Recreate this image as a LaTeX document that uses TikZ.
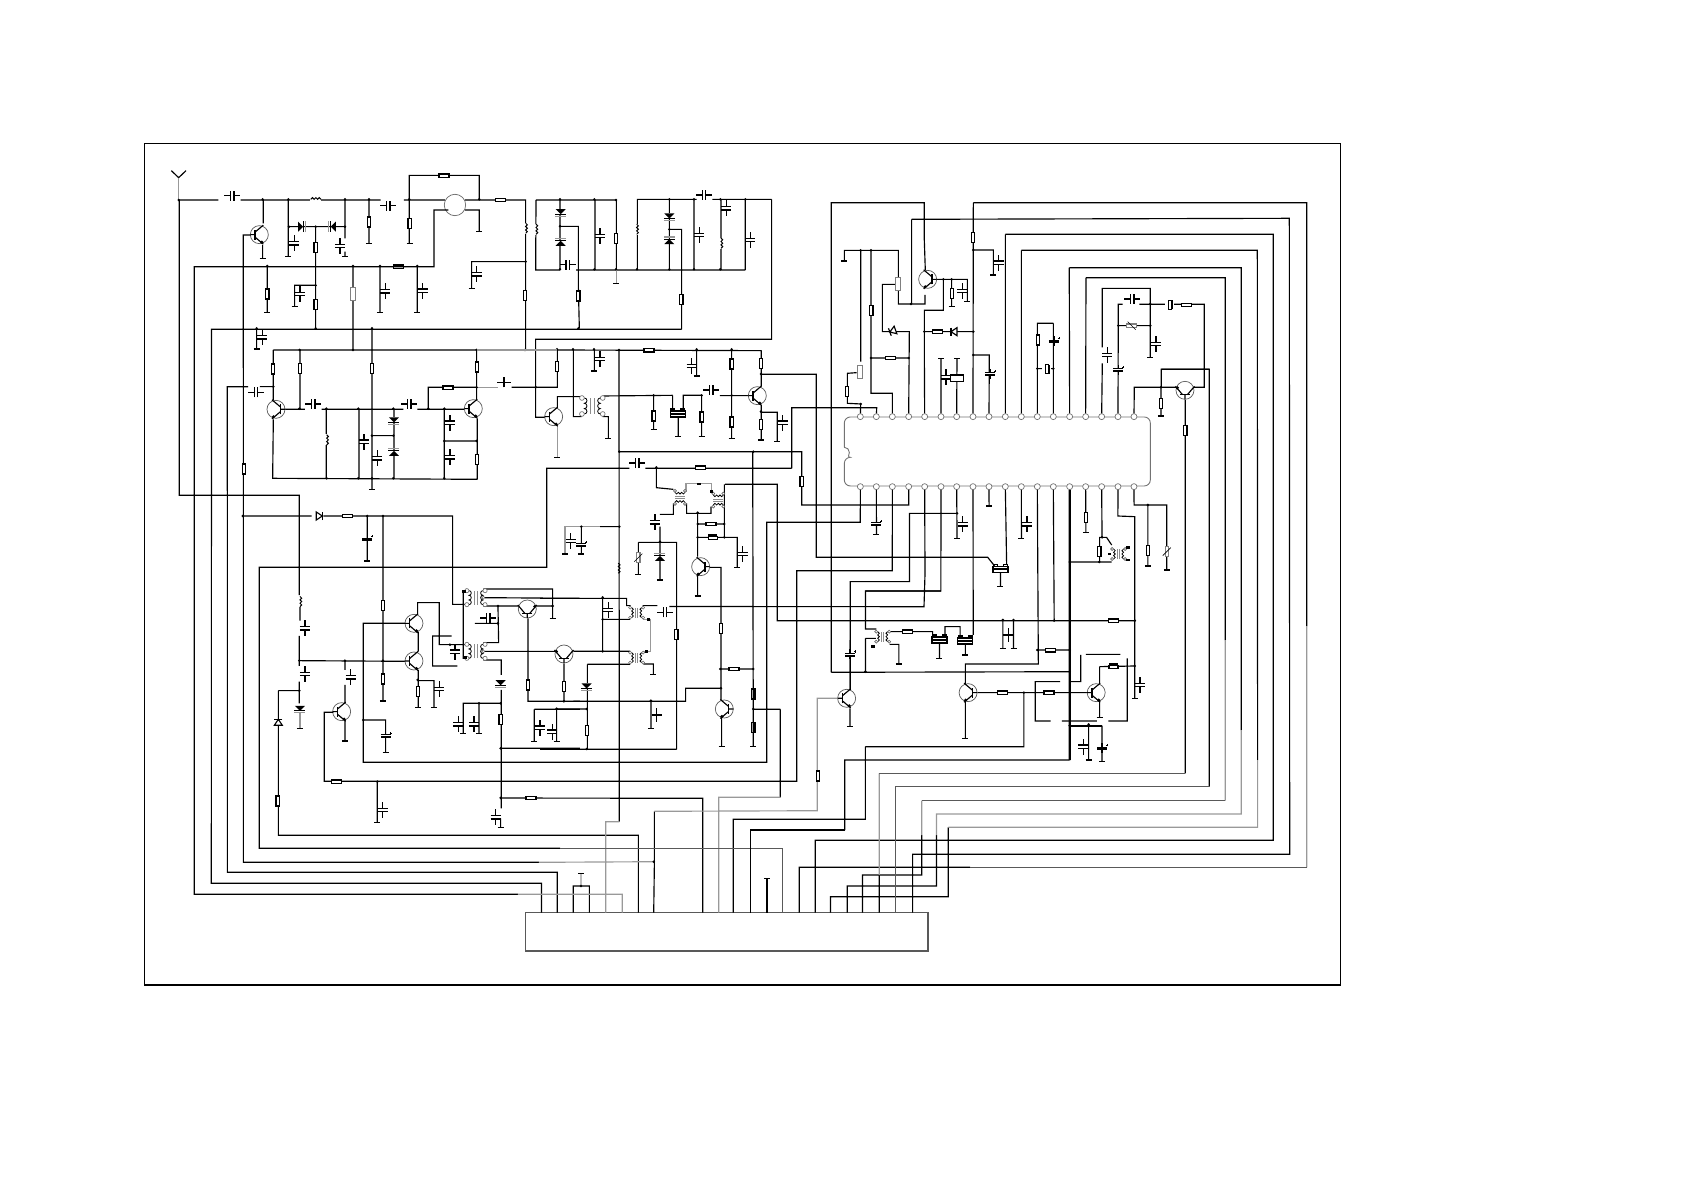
\documentclass[tikz,border=0pt]{standalone}
\newcommand\Put[2]{\foreach \cx/\cy in {#2} {\pic at (\cx,\cy) {#1};}}
\newcommand\Dots[1]{\foreach \cx/\cy in {#1} {\fill (\cx,\cy) circle (1.4pt);}}
\tikzset{
	wire/.style={line width=1.15pt},
	pale/.style={line width=1.15pt,black!40},
	dim/.style={line width=1.15pt,black!65},
	heavy/.style={line width=2.3pt},
	pinhole/.style={circle,draw=black!55,fill=white,line width=.7pt,inner sep=0pt,minimum size=6pt},
	resv/.pic={\draw[wire,fill=white] (-1.7pt,-5pt) rectangle (1.7pt,5pt);},
	resh/.pic={\draw[wire,fill=white] (-5pt,-1.7pt) rectangle (5pt,1.7pt);},
	potv/.pic={\draw[wire,black!50,fill=white] (-2.5pt,-6.5pt) rectangle (2.5pt,6.5pt);},
	trimv/.pic={\draw[wire,black!50,fill=white] (-1.7pt,-5pt) rectangle (1.7pt,5pt);\draw[line width=.7pt] (-4pt,-4pt) -- (4pt,4pt);},
	capv/.pic={\fill[white] (-1.5pt,-1.6pt) rectangle (1.5pt,1.6pt);
		\draw[wire] (-5pt,1.7pt) -- (5pt,1.7pt) (-5pt,-1.7pt) -- (5pt,-1.7pt) (0pt,1.7pt) -- (0pt,8pt) (0pt,-1.7pt) -- (0pt,-8pt);},
	caph/.pic={\fill[white] (-1.6pt,-1.5pt) rectangle (1.6pt,1.5pt);
		\draw[wire] (1.7pt,-5pt) -- (1.7pt,5pt) (-1.7pt,-5pt) -- (-1.7pt,5pt) (1.7pt,0pt) -- (8pt,0pt) (-1.7pt,0pt) -- (-8pt,0pt);},
	tcapv/.pic={\draw[line width=1.8pt] (-5pt,0pt) -- (5pt,0pt);\draw[wire] (0pt,-7pt) -- (0pt,7pt);},
	elecv/.pic={\fill[white] (-5pt,-1.8pt) rectangle (5pt,1.2pt);
		\draw[wire] (-5pt,1.2pt) -- (5pt,1.2pt) (0pt,1.2pt) -- (0pt,5pt) (0pt,-1.8pt) -- (0pt,-5pt);
		\fill (-5pt,-1.8pt) rectangle (5pt,0pt);
		\draw[line width=.5pt] (4pt,3pt) -- (6pt,3pt) (5pt,2pt) -- (5pt,4pt);},
	xcrys/.pic={\fill[white] (-4.5pt,-2pt) rectangle (4.5pt,2pt);\draw[wire,fill=white] (-1.5pt,-4.5pt) rectangle (1.5pt,4.5pt);\draw[line width=1.3pt] (2.8pt,-4.5pt) -- (2.8pt,4.5pt);},
	xbox/.pic={\draw[line width=1.3pt,fill=white] (-6.5pt,-3.3pt) rectangle (6.5pt,3.3pt);},
	filter/.pic={\draw[wire,fill=white] (-7.5pt,-3pt) rectangle (7.5pt,3pt);\draw[line width=1.8pt] (-7.5pt,0pt) -- (7.5pt,0pt);
		\draw[wire,fill=white] (-7pt,3pt) rectangle (-3pt,5pt) (3pt,3pt) rectangle (7pt,5pt);},
	earth/.pic={\draw[wire] (-3pt,0pt) -- (3pt,0pt);},
	speck/.pic={\fill (-1.7pt,-1.3pt) rectangle (1.7pt,1.3pt);},
	coilv/.pic={\fill[white] (-2pt,-5.5pt) rectangle (2pt,5.5pt);
		\draw[line width=1pt] (0pt,-5pt) arc (-90:90:1.7pt) arc (-90:90:1.7pt) arc (-90:90:1.7pt);},
	diode/.pic={\fill[white] (-2.5pt,-5pt) rectangle (2.5pt,5pt);
		\fill (-2.5pt,-5pt) -- (-2.5pt,5pt) -- (2.5pt,0pt) -- cycle;
		\draw[wire] (2.5pt,-5.5pt) -- (2.5pt,5.5pt);\draw[wire,black!40] (4.6pt,-5.5pt) -- (4.6pt,5.5pt);},
	hdiode/.pic={\draw[wire,fill=white] (-3pt,-4pt) -- (-3pt,4pt) -- (3pt,0pt) -- cycle;\draw[wire] (3pt,-4pt) -- (3pt,4pt);},
	npn/.pic={\draw[black!65,line width=.7pt] (0pt,0pt) circle (9pt);
		\draw[line width=1.5pt] (-4.3pt,-5pt) -- (-4.3pt,5pt);
		\draw[wire] (-9pt,0pt) -- (-4.3pt,0pt) (-4.3pt,2.5pt) -- (4pt,9.5pt) (-4.3pt,-2.5pt) -- (4pt,-9.5pt);
		\fill (2.5pt,-7.5pt) circle (1.7pt);},
	xfmr/.pic={\fill[white] (-6.5pt,-5pt) rectangle (6.5pt,5pt);
		\draw[line width=.8pt] (-5pt,-5pt) arc (-90:90:1.67pt) arc (-90:90:1.67pt) arc (-90:90:1.67pt);
		\draw[line width=.8pt] (5pt,-5pt) arc (270:90:1.67pt) arc (270:90:1.67pt) arc (270:90:1.67pt);
		\draw[black!45,line width=.6pt] (-1pt,-5pt) -- (-1pt,5pt) (1pt,-5pt) -- (1pt,5pt);
		\foreach \tx in {-6.5,6.5} \foreach \ty in {-5,5} {\draw[black!60,fill=white,line width=.6pt] (\tx pt,\ty pt) circle (1.5pt);}},
}
\begin{document}
\begin{tikzpicture}[x=.3333pt,y=-.3333pt]
	\useasboundingbox (0pt,0pt) rectangle (1685pt,-1191pt);
	\begin{scope}[x=1pt,y=-1pt]
		\draw[wire] (144.3,143.3) rectangle (1340.5,985);
		\draw[dim] (525.5,912.7) rectangle (928,951);
	\end{scope}
	\begin{scope}[shift={(820pt,-180pt)}]
		\draw[black!55,line width=.9pt,rounded corners=6pt] (73,802) -- (73,711) -- (991,711) -- (991,918) -- (73,918) -- (73,832) arc (-90:90:5pt);
		\foreach \n [count=\i] in {121,169,217,266,314,363,410,459,507,556,604,652,700,749,797,845,894,942} {
			\node[pinhole] (t\i) at (\n,710) {};
			\node[pinhole] (b\i) at (\n,920) {};
		}
		\draw[wire] (315,345) -- (315,372) -- (235,372) -- (235,211) -- (73,211) -- (73,243)
			(275,372) -- (275,118)
			(225,313) -- (187,313) -- (187,455) -- (268,455) -- (t4)
			(153,211) -- (153,640) -- (217,640) -- (t3)
			(153,534) -- (266,534)
			(122,211) -- (122,545) (110,578) -- (82,580) -- (82,670) -- (122,672) -- (t1)
			(350,298) -- (442,298) -- (442,365)
			(370,298) -- (370,391) -- (313,391) -- (313,510) -- (t5)
			(313,455) -- (460,455)
			(395,298) -- (395,380)
			(460,68) -- (t8) (460,210) -- (520,210) -- (520,285)
			(460,525) -- (508,525) -- (t9)
			(363,535) -- (t6) (411,535) -- (t7)
			(556,163) -- (556,285) -- (t10)
			(604,211) -- (t11)
			(700,430) -- (652,430) -- (t12) (700,430) -- (t13) (652,566) -- (700,566)
			(748,263) -- (748,340) -- (t14)
			(798,293) -- (t15)
			(847,502) -- (847,325) -- (991,325) -- (991,532) (847,550) -- (t16)
			(908,373) -- (895,373) -- (t17) (958,373) -- (1153,373) -- (1153,622) -- (1122,622)
			(895,437) -- (991,437)
			(1068,622) -- (943,622) -- (t18) (1023,622) -- (1023,708)
			(1024,622) -- (1024,568) -- (1168,568);
		\Put{resv}{459/172,396/341,154/391,81/634,654/480,1023/670}
		\Put{resh}{211/534,352/455,1100/375}
		\Put{potv}{234/312,120/577}
		\Put{capv}{536/248,427/333,378/592,862/525,1008/492}
		\Put{caph}{937/357}
		\Put{elecv}{702/484,510/582,895/570}
		\Put{earth}{73/243,395/380,442/365,520/285,1023/708,991/532,363/535,411/535}
		\Dots{122/211,153/211,273/372,153/534,266/534,122/672,370/298,395/298,313/455,460/210,460/455,460/525,652/566,700/566,895/437,991/437,991/372,1023/622}
		\pic[rotate=90] at (935,437) {trimv};
		\pic at (681,568) {xcrys};
		\pic at (1050,375) {xcrys};
		\pic at (411,595) {xbox};
		\pic[rotate=200] at (218,453) {hdiode};
		\pic[rotate=180] at (402,455) {hdiode};
		\pic[xscale=-1] at (323,298) {npn};
		\pic[rotate=90,yscale=-1] at (1095,631) {npn};
	\end{scope}
	\begin{scope}[shift={(130pt,-130pt)}]
		\draw[wire] (124,122) -- (146,143) -- (168,122);
		\draw[pale] (146,143) -- (146,210);
		\draw[wire] (146,210) -- (265,210) (332,210) -- (752,210) (822,210) -- (945,210)
			(838,210) -- (838,136) -- (1048,136) -- (1048,210)
			(1005,210) -- (1187,210) -- (1187,660)
			(1005,240) -- (1048,240) -- (1048,305)
			(400,210) -- (400,280) (398,345) -- (398,385)
			(475,210) -- (475,380) (477,290) -- (645,290)
			(645,210) -- (645,325) (645,365) -- (645,380)
			(557,290) -- (557,597) (557,466) -- (494,466) -- (494,530)
			(717,210) -- (717,340) (838,210) -- (838,340)
			(412,410) -- (412,547) (669,410) -- (669,660) (750,410) -- (750,547) (862,410) -- (862,547)
			(1025,475) -- (1025,395) -- (1187,395)
			(380,597) -- (380,657)
			(430,660) -- (1040,660) (430,660) -- (430,810) (510,660) -- (510,838)
			(726,597) -- (726,1078)
			(465,838) -- (525,838) (575,838) -- (820,838)
			(430,868) -- (428,1045) -- (1042,1048)
			(589,838) -- (589,1045) (687,838) -- (687,1045) (792,838) -- (792,1045) (726,917) -- (790,917)
			(862,838) -- (1005,838) (895,838) -- (895,772) -- (1040,772)
			(1040,660) -- (1040,810) (1042,865) -- (1042,1048)
			(943,838) -- (943,1045) (943,933) -- (1040,933)
			(390,770) -- (430,770);
		\draw[pale] (1040,772) -- (1105,772) (1040,660) -- (1260,660);
		\draw[black!60,line width=.7pt] (975,225) circle (10.7pt);
		\Put{resv}{717/276,839/280,557/353,557/524,412/492,1185/497,429/717,510/715,726/715,1041/711,1041/988}
		\Put{resh}{942/137,1112/210,805/410,954/773}
		\Put{capv}{493/340,630/348,510/492,766/484,878/482,1040/433,397/622,702/935,742/985,960/878,960/982}
		\Put{caph}{307/197,775/227,378/787,550/822,838/822}
		\Put{earth}{398/385,475/380,645/380,717/340,839/340,1048/305,412/547,750/548,862/548,494/530,1025/475,380/657,726/1078}
		\Dots{146/210,398/208,475/208,645/208,717/208,838/208,1048/208,477/290,645/290,557/290,412/408,669/408,750/408,862/408,1187/395,557/466,380/595,557/595,726/595,509/660,669/660,1040/660,1185/660,508/836,589/836,685/836,790/836,895/836,943/836,726/917,790/917,943/933,1040/933,590/1045,685/1045,726/1045,790/1045,943/1045,430/770,1040/772}
		\pic at (669,492) {potv};
		\pic[rotate=90] at (558,208) {coilv};
		\pic at (1187,295) {coilv};
		\pic at (590,930) {coilv};
		\pic[rotate=90] at (1122,757) {tcapv};
		\pic at (512,290) {diode};
		\pic[rotate=180] at (610,290) {diode};
		\pic[rotate=-90] at (792,870) {diode};
		\pic[rotate=90] at (792,970) {diode};
		\pic at (388,314) {npn};
		\pic[xscale=-1] at (438,838) {npn};
		\pic at (1030,836) {npn};
	\end{scope}
	\begin{scope}[shift={(500pt,-160pt)}]
		\draw[wire] (108,120) -- (350,120) (108,120) -- (107,330) -- (180,330) (180,120) -- (180,330)
			(180,199) -- (235,199) -- (235,375) -- (238,505)
			(228,330) -- (736,330) (285,120) -- (285,330) (349,120) -- (349,330)
			(590,118) -- (412,118) -- (412,330) (637,118) -- (815,118)
			(508,118) -- (508,330) (508,208) -- (545,208) -- (545,508)
			(582,118) -- (582,330) (663,118) -- (663,330) (736,118) -- (736,330)
			(815,118) -- (815,538) -- (107,538) -- (107,772) -- (135,772)
			(172,745) -- (172,710) -- (245,710)
			(35,682) -- (172,682) -- (172,568)
			(172,570) -- (785,572)
			(220,570) -- (220,770) -- (245,770) (283,570) -- (283,633) (590,570) -- (590,648)
			(695,570) -- (695,835) (784,572) -- (784,680) (784,735) -- (784,840) (784,757) -- (832,757) -- (832,845)
			(660,707) -- (745,707) (605,706) -- (550,706) -- (550,750) (605,706) -- (605,830)
			(518,706) -- (518,750) (535,770) -- (535,830)
			(310,708) -- (518,706) (461,706) -- (461,808)
			(308,770) -- (325,770) -- (325,835);
		\draw[pale] (172,795) -- (172,892) (349,330) -- (349,370);
		\Put{resv}{348/235,235/408,544/418,171/620,695/612,695/786,783/611,783/793,605/771,461/768}
		\Put{resh}{447/571}
		\Put{capv}{300/228,300/597,598/225,679/145,751/240,848/788,575/618}
		\Put{caph}{203/314,612/105,634/690}
		\Put{coilv}{108/208,410/208,663/250}
		\Put{earth}{283/633,590/648,695/835,784/840,832/845,605/830,535/830,461/808,325/835,172/892,349/370}
		\Dots{180/118,283/118,348/120,508/118,582/118,661/118,736/118,180/199,180/328,283/328,348/328,411/328,508/328,582/328,661/328,508/208,235/505,107/682,171/568,219/568,282/568,357/570,590/568,695/568,783/642,783/755,461/706,605/706,695/706}
		\pic[rotate=-90] at (182,155) {diode};
		\pic[rotate=90] at (182,250) {diode};
		\pic[rotate=-90] at (508,168) {diode};
		\pic[rotate=90] at (508,245) {diode};
		\pic at (533,762) {filter};
		\pic[scale=1.6] at (277,738) {xfmr};
		\pic at (161,770) {npn};
		\pic at (772,707) {npn};
	\end{scope}
	\begin{scope}[shift={(160pt,-490pt)}]
		\draw[wire] (248,78) -- (455,78) (490,78) -- (878,78) -- (878,343) -- (925,343)
			(622,78) -- (622,213) (669,78) -- (669,633)
			(420,350) -- (420,392) (418,438) -- (418,528) (418,575) -- (418,640)
			(418,512) -- (735,514) (555,512) -- (555,540) (555,585) -- (555,640)
			(355,602) -- (418,602) (355,602) -- (355,690)
			(555,690) -- (555,753) (610,690) -- (677,690) -- (677,787)
			(773,375) -- (773,338) -- (838,338) -- (838,464) -- (925,464)
			(775,425) -- (775,485) (775,540) -- (775,652) (773,572) -- (822,572) -- (822,652)
			(875,438) -- (818,438) -- (818,528) -- (892,528)
			(910,303) -- (910,505) -- (925,505)
			(970,297) -- (1178,297) -- (1178,385) (970,323) -- (1260,325) (970,348) -- (1075,348) (1130,348) -- (1178,348)
			(1014,348) -- (1016,458) -- (970,458) (945,400) -- (1014,400)
			(1104,385) -- (1104,634) -- (1260,634)
			(970,484) -- (1185,484) (970,510) -- (1024,510) -- (1024,555) (1024,600) -- (1024,955) (1022,985) -- (1022,1012)
			(1024,640) -- (910,640) -- (910,730) (957,640) -- (957,730)
			(1022,775) -- (1260,775)
			(1123,658) -- (1260,658) (1123,658) -- (1123,755) (1190,656) -- (1190,755)
			(652,875) -- (652,997)
			(1212,520) -- (1212,634);
		\draw[pale] (420,670) -- (420,715);
		\Put{resv}{669/347,669/567,774/604,1022/688,1104/585,1212/589}
		\Put{resh}{562/78}
		\Put{capv}{435/415,435/552,572/562,838/597,895/703,942/703,1140/713,1177/725,668/960,1007/982,885/485}
		\Put{caph}{985/384}
		\Put{elecv}{622/148,677/738}
		\Put{earth}{622/213,669/633,420/715,555/753,677/787,775/652,822/652,1178/385,910/730,957/730,1123/755,1190/755,652/997,1022/1012}
		\Dots{248/78,622/78,669/78,418/512,555/512,669/512,418/602,773/570,610/690,870/464,1014/348,1014/400,1178/348,1022/640,957/640,1022/775,1022/924,1190/656,1212/634,652/875}
		\pic at (420,335) {coilv};
		\pic at (478,78) {hdiode};
		\pic[rotate=-90] at (420,655) {diode};
		\pic[rotate=90] at (355,697) {hdiode};
		\pic[rotate=-90] at (1022,578) {diode};
		\pic[scale=1.4] at (948,323) {xfmr};
		\pic[scale=1.4] at (948,484) {xfmr};
		\foreach \cy in {323,484} {\draw[black!60,fill=white,line width=.6pt] (970,\cy) circle (1.5pt);}
		\Put{speck}{912/304,915/503}
		\pic at (762,400) {npn};
		\pic at (762,513) {npn};
		\pic at (545,665) {npn};
		\pic[rotate=90] at (1102,357) {npn};
		\pic[rotate=90,yscale=-1] at (1212,492) {npn};
	\end{scope}
	\begin{scope}[shift={(540pt,-450pt)}]
		\draw[wire] (349,52) -- (349,113) -- (400,118)
			(440,160) -- (440,190) -- (513,190) -- (513,170)
			(400,160) -- (400,193) -- (360,193) (360,230) -- (360,277)
			(295,277) -- (410,277) -- (410,898) (360,277) -- (360,390) (295,277) -- (295,373)
			(553,103) -- (553,262) (473,190) -- (473,320) (473,375) -- (473,438) (473,222) -- (553,222) (473,262) -- (592,262) -- (592,352)
			(510,352) -- (543,352) -- (543,750) (541,657) -- (640,657) (545,800) -- (545,890)
			(543,715) -- (437,715) -- (437,754) -- (100,754) (333,754) -- (333,835)
			(180,230) -- (238,230) (124,230) -- (124,312)
			(0,445) -- (260,445) -- (260,467) -- (272,467)
			(188,442) -- (188,604) (188,508) -- (270,508) (100,604) -- (270,604)
			(308,467) -- (352,467)
			(142,643) -- (270,643) (142,643) -- (142,897) (310,642) -- (340,642) -- (340,673)
			(0,898) -- (410,898) (50,777) -- (140,777)
			(930,775) -- (930,830);
		\draw[pale] (438,125) -- (438,100) -- (515,100) -- (515,125) (75,312) -- (75,230) -- (180,230) (308,508) -- (332,508) -- (332,604) -- (310,604);
		\Put{resv}{543/535,640/732,640/833,409/554,141/841}
		\Put{resh}{513/222,582/657}
		\Put{capv}{345/217,608/312,92/273,205/480}
		\Put{caph}{292/39,375/487}
		\Put{elecv}{124/285,930/613}
		\Put{earth}{360/390,295/373,473/438,592/352,545/890,640/890,333/835,75/312,124/312,340/673,930/830}
		\Dots{349/52,473/188,473/222,473/262,553/222,553/262,360/275,188/442,188/508,188/604,543/715,541/657,640/657,640/777,640/5,238/5,238/230,124/230,333/752,140/777,140/897}
		\pic[rotate=90] at (518,263) {xcrys};
		\pic at (350,795) {tcapv};
		\pic at (295,323) {trimv};
		\pic at (235,355) {coilv};
		\pic[rotate=90] at (360,325) {diode};
		\pic[rotate=-90] at (140,708) {diode};
		\pic[rotate=90] at (420,142) {xfmr};
		\pic[rotate=90] at (535,150) {xfmr};
		\pic at (290,488) {xfmr};
		\pic at (290,623) {xfmr};
		\Put{speck}{477/102,515/124,326/508,320/604}
		\pic[xscale=-1] at (482,350) {npn};
		\pic[xscale=-1] at (553,777) {npn};
		\pic at (920,745) {npn};
	\end{scope}
	\begin{scope}[shift={(800pt,-480pt)},x=.3444pt]
		\draw[wire] (b2) -- (222,163) (b6) -- (409,333) -- (190,333) -- (190,447) -- (222,447)
			(b7) -- (456,175) (456,100) -- (318,100) -- (318,305) -- (146,305) -- (146,630)
			(b8) -- (503,465) (b9) -- (549,78) (b10) -- (600,258) (b11) -- (643,175)
			(b12) -- (692,552) -- (480,552) -- (480,612) (b13) -- (738,422)
			(b15) -- (830,158) (b16) -- (877,172) -- (870,172) -- (870,245) (877,172) -- (890,172) -- (905,195)
			(783,246) -- (905,246)
			(b17) -- (923,108) -- (972,110) -- (972,655) (870,560) -- (972,558) (870,560) -- (870,610) (870,665) -- (870,712)
			(b18) -- (970,75) -- (1065,75) -- (1065,270) (1010,75) -- (1010,258)
			(689,510) -- (783,510)
			(190,475) -- (222,475) (190,475) -- (190,575)
			(260,455) -- (385,455) -- (385,470) (421,470) -- (421,440) -- (465,440) -- (465,470)
			(405,490) -- (405,535) (480,495) -- (480,525) (260,493) -- (287,493) -- (287,552)
			(589,420) -- (589,505) (620,420) -- (620,505)
			(480,665) -- (480,775) (515,638) -- (835,638) (582,275) -- (582,320)
			(755,605) -- (683,605) -- (683,723) -- (728,723) (760,723) -- (862,723) (895,723) -- (950,723) -- (950,535) (830,523) -- (930,523)
			(815,525) -- (815,605) -- (785,605)
			(877,737) -- (877,845) (838,733) -- (838,840);
		\draw[heavy] (783,737) -- (877,737);
		\Put{resv}{830/112,869/214,1010/212}
		\Put{resh}{312/455,727/511,588/638,723/638}
		\Put{capv}{472/133,659/133,987/615,823/800}
		\Put{elecv}{222/132,877/805}
		\Put{filter}{405/480,480/483,582/268}
		\Put{earth}{222/163,456/175,549/78,643/175,582/320,830/158,405/535,480/525,287/552,589/505,620/505,480/775,870/712,972/655,838/840,877/845,1010/258,1065/270}
		\Dots{456/100,689/510,738/422,783/510,783/575,190/575,783/246,869/246,877/172,972/422,972/558,1010/75,650/638,783/737,838/733,589/420,620/420}
		\pic at (1065,215) {trimv};
		\pic[rotate=90] at (910,560) {xcrys};
		\pic at (605,465) {tcapv};
		\pic at (240,470) {xfmr};
		\pic at (925,222) {xfmr};
		\Put{speck}{212/500,898/222,952/202,952/240}
		\pic[xscale=-1] at (488,638) {npn};
		\pic at (860,638) {npn};
	\end{scope}
	\begin{scope}[x=1pt,y=-1pt]
		\draw[pale] (476.7,350) -- (556.7,350);
		\draw[wire] (179.3,200) -- (179.3,495.3) -- (299.3,495.3) -- (299.3,595)
			(448.3,210) -- (434,210) -- (434,266.7) -- (194.3,266.7) -- (194.3,894.3) -- (517.8,894.3)
			(681.7,329.3) -- (211.5,329.3) -- (211.3,883.3) -- (541.5,883.3) -- (541.5,912.7)
			(248,386.7) -- (227.3,386.7) -- (227.4,872.3) -- (557.2,872.3) -- (557.2,912.7)
			(250.7,235) -- (243.3,235) -- (243.4,862.3) -- (538.9,862.3)
			(654.4,811.3) -- (654.4,861.7) (654.4,861.7) -- (653.7,912.7)
			(629.3,468.3) -- (546.7,468.3) -- (546.7,567.3) -- (259.3,567.3) -- (259.3,848.3) -- (560,848.3)
			(278.4,725) -- (278.4,835.3) -- (638.4,835.3) -- (638.4,912.7)
			(333.3,712.3) -- (324.3,712.3) -- (324.3,781.3) -- (796.7,781.3) -- (796.7,570.7) -- (892.3,570.7) -- (b3)
			(405,623.3) -- (363.3,623.3) -- (363.3,762.3) -- (766.7,762.3) -- (766.7,522.3) -- (860.3,522.3) -- (b1)
			(500.7,798) -- (702.7,798.3) -- (702.7,912.7)
			(619,350) -- (619.3,821.7)
			(669.3,606.5) -- (924,606.7) -- (925,574) -- (b5)
			(725,484.3) -- (777.3,484.3) -- (777.3,620.7) -- (1134,620.7)
			(940.9,591) -- (865.4,591)
			(850.3,690) -- (850.3,640)
			(831.3,672.3) -- (1069.7,671.7) (831.3,672.3) -- (831.3,202.7) -- (924.3,202.7) -- (924.3,240) -- (925.3,270)
			(761.3,374.3) -- (816.3,374.3) -- (816.3,557.3) -- (987.7,557.3) -- (994.6,566)
			(791.7,468.3) -- (791.7,407.7) -- (876.7,407.7) -- (t2) (791.7,468.3) -- (645.3,468.3)
			(619.3,451.7) -- (801.7,451.7) -- (801.7,505) -- (908.8,505) -- (b4)
			(752.7,451.7) -- (753.3,746.7) (780.3,709.3) -- (753.3,709.3)
			(780.3,797.3) -- (780.3,709.3)
			(865.4,746.7) -- (1023.9,746.7) -- (1023.9,693.3) (865.4,746.7) -- (865.4,819.3) -- (733.3,819.3) -- (733.3,912.7)
			(1185.3,400) -- (1185.3,773.3)
			(1161.3,369.3) -- (1209.3,369.3) -- (1209.3,786.7)
			(1086,277.7) -- (1225.3,277.7) -- (1225.3,640) (921.8,835) -- (921.8,875) -- (862.5,875) -- (862.5,912.7)
			(1069.3,267.7) -- (1241.3,267.7) -- (1241.3,730) (936.5,835) -- (936.5,886) -- (847.3,886) -- (847.3,912.7)
			(1021.3,250.3) -- (1257.3,250.3) -- (1257.6,760) (948.3,827.3) -- (948.3,896.7) -- (830.5,896.7) -- (830.5,912.7)
			(1005.3,234.3) -- (1273.3,234.3) -- (1273.3,840.3) -- (815.3,840.3) -- (815.3,912.7)
			(911.7,219.3) -- (1289.3,218.3) -- (1289.7,854.3) -- (912.6,854.3) -- (912.6,912.7)
			(973.3,202.7) -- (1306.7,202.7) -- (1306.7,626) (970,867.3) -- (799.3,867.3) -- (799.3,912.7)
			(879.3,875) -- (879.3,912.7)
			(573.3,912.7) -- (573.3,886) -- (589.4,886) -- (589.4,912.7)
			(1069.7,760) -- (844.8,760) -- (844.8,830);
		\draw[pale] (517.8,894.3) -- (622.3,894.3) -- (622.3,912.7)
			(538.9,862.3) -- (653.7,861.7)
			(619.3,821.7) -- (605.8,821.7) -- (605.8,912.7)
			(718.7,912.7) -- (718.7,797.3) -- (780.3,797.3)
			(654.4,811.3) -- (817.3,810.7) -- (817.3,698.3) -- (837.3,698.3)
			(1225.3,640) -- (1225.3,800.7) (921.8,800.7) -- (921.8,835)
			(1241.3,730) -- (1241.3,814) -- (936.5,814) -- (936.5,835)
			(1257.6,760) -- (1257.6,827.3) -- (948.3,827.3)
			(1306.7,626) -- (1306.7,867.3)
			(879.3,773.3) -- (879.3,875)
			(581,886) -- (581,873.3);
		\draw[dim] (560,848.3) -- (782.5,848.3) -- (782.5,912.7)
			(1185.3,773.3) -- (879.3,773.3)
			(1209.3,786.7) -- (895.7,786.7) -- (895.7,912.7)
			(1225.3,800.7) -- (921.8,800.7)
			(1306.7,867.3) -- (970,867.3);
		\draw[heavy] (b14) -- (1069.7,760);
		\draw[line width=1.8pt] (844.8,830) -- (750.5,830) -- (750.5,912.7);
		\draw[line width=1.8pt] (767.3,878.3) -- (767.3,912.7);
		\Put{resv}{244/469,277.7/801,801.7/481.7,817.8/776,1185.3/430.3}
		\Put{resh}{336.7/781.7,531/798,700.3/467.7,1113.4/620.7}
		\Put{earth}{767.3/878.3,581/873.3}
		\Put{elecv}{850.3/654.7}
		\Dots{653.7/861.7,581/886}
	\end{scope}
\end{tikzpicture}
\end{document}
